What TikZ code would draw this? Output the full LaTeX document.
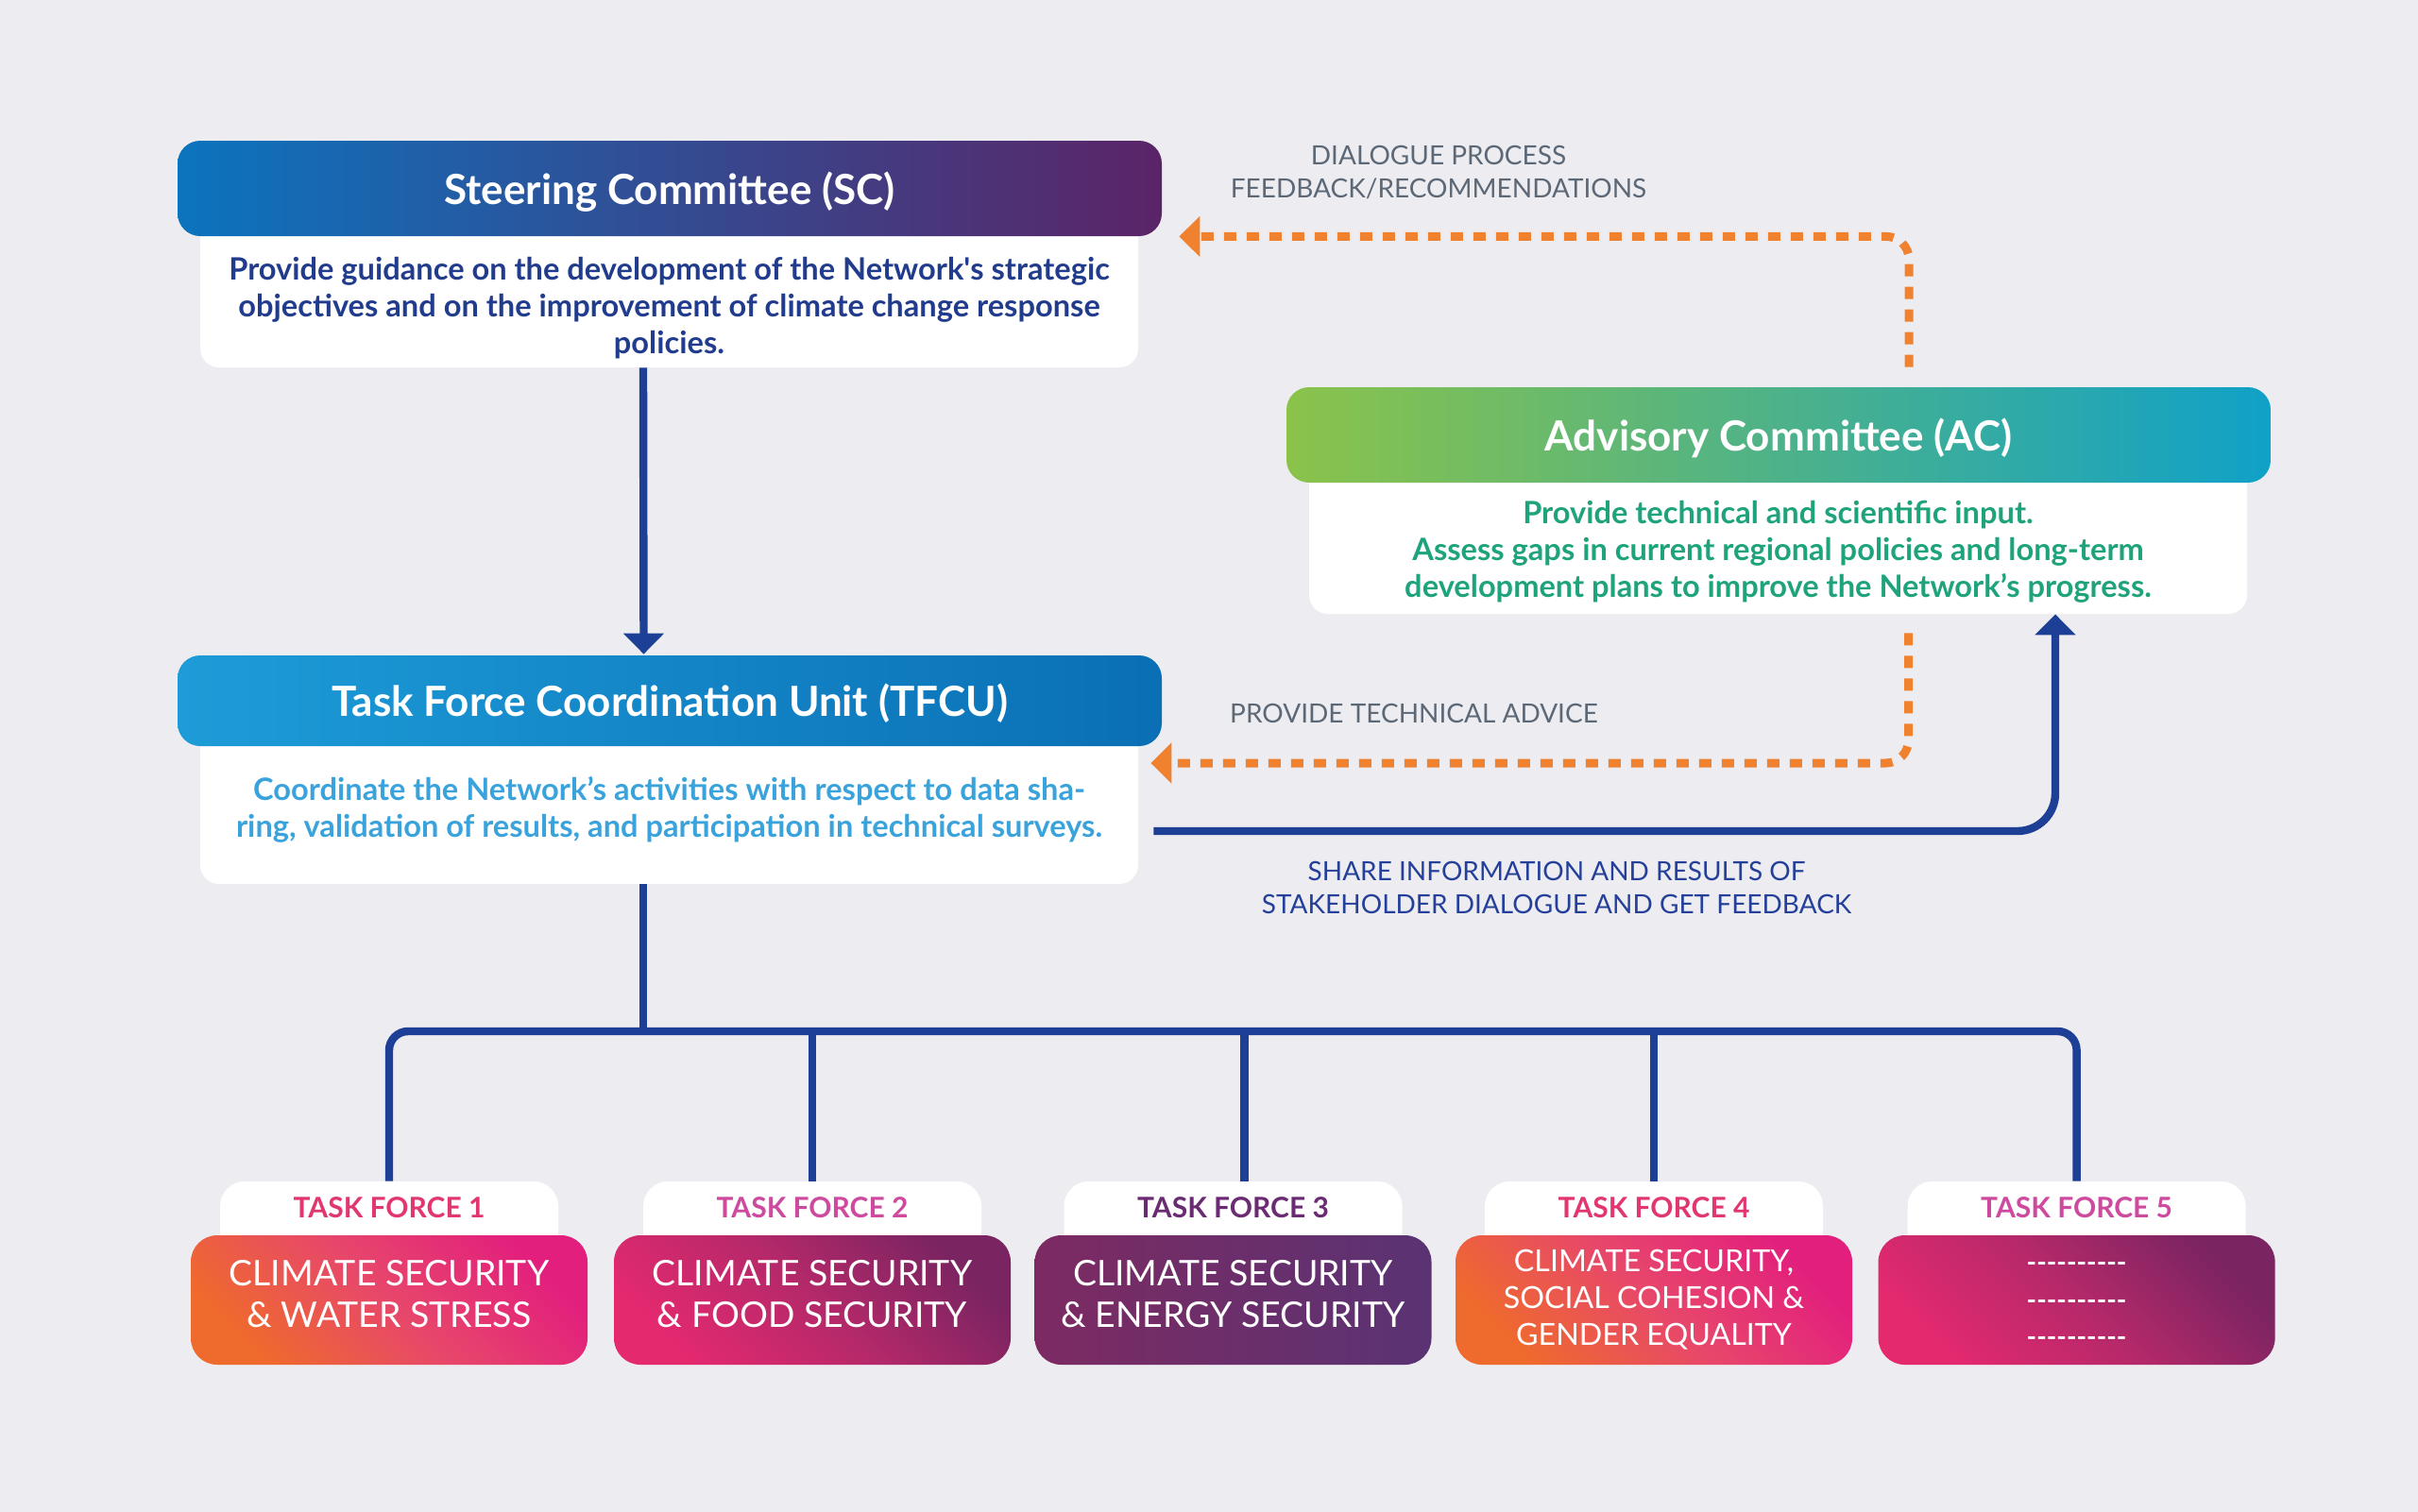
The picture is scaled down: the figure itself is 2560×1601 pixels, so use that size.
\documentclass[tikz,border=0pt]{standalone}
\usepackage{fontspec}
\setmainfont{Lato}
\usetikzlibrary{arrows.meta,calc}
\definecolor{bg}{HTML}{EDEDF1}
\definecolor{lineblue}{HTML}{1E3F96}
\definecolor{orng}{HTML}{F0812F}
\definecolor{greytxt}{HTML}{5D6877}
\definecolor{shareblue}{HTML}{24409A}
\definecolor{scblue}{HTML}{213C8D}
\definecolor{tfcublue}{HTML}{3AA3DC}
\definecolor{acgreen}{HTML}{1EA37C}
\definecolor{scL}{HTML}{0B74BE}
\definecolor{scR}{HTML}{5B2467}
\definecolor{tfL}{HTML}{1D9CD8}
\definecolor{tfR}{HTML}{0A6FB5}
\definecolor{acL}{HTML}{8BC34A}
\definecolor{acR}{HTML}{10A1C8}
\definecolor{oraB}{HTML}{EF6A2D}
\definecolor{oraM}{HTML}{E7476B}
\definecolor{oraT}{HTML}{E21F7D}
\definecolor{pinB}{HTML}{E4296F}
\definecolor{pinM}{HTML}{B5296A}
\definecolor{pinT}{HTML}{7A2461}
\definecolor{purL}{HTML}{7D2A62}
\definecolor{purR}{HTML}{5A3373}
\definecolor{labA}{HTML}{E2366E}
\definecolor{labB}{HTML}{CE4A9E}
\definecolor{labC}{HTML}{6A2B72}
\begin{document}
\begin{tikzpicture}[x=0.5pt,y=-0.5pt,
  hdr/.style={rounded corners=12pt, minimum width=521pt, minimum height=50.5pt, inner sep=0pt, text=white, text height=16.8pt, text depth=0pt, font=\bfseries\fontsize{22}{26}\selectfont},
  wbox/.style={fill=white, rounded corners=10pt, minimum width=496.5pt, inner sep=0pt},
  body/.style={align=center, inner sep=0pt, font=\bfseries\fontsize{16.3}{19.5}\selectfont},
  lbl/.style={align=center, inner sep=0pt, font=\fontsize{14}{17.5}\selectfont},
  bl/.style={draw=lineblue, line width=4.2pt},
  og/.style={draw=orng, line width=4.5pt, dash pattern=on 6.5pt off 5.5pt},
  tip/.style={-{Triangle[length=11pt,width=21pt]}},
  tab/.style={fill=white, rounded corners=13pt, minimum width=179pt, minimum height=39.5pt, inner sep=0pt},
  tfbox/.style={rounded corners=14pt, minimum width=210pt, minimum height=68.5pt, inner sep=0pt},
  tftxt/.style={align=center, inner sep=0pt, text=white, font=\fontsize{18.7}{22}\selectfont},
  tflbl/.style={inner sep=0pt, font=\bfseries\fontsize{15}{18}\selectfont},
  oramix/.style={bottom color=oraB, top color=oraT, middle color=oraM, shading angle=-45},
  pinmix/.style={bottom color=pinB, top color=pinT, middle color=pinM, shading angle=-45},
]
\path[fill=bg] (0,0) rectangle (2560,1601);

% Steering Committee
\node[wbox, minimum height=94.5pt] (scw) at (708.5,294.5) {};
\node[hdr, left color=scL, right color=scR] (sch) at (709,199.5) {Steering Committee (SC)};
\node[body, text=scblue] (sct) at (708.5,326) {Provide guidance on the development of the Network\textquotesingle s strategic\\objectives and on the improvement of climate change response\\policies.};

% TFCU
\node[wbox, minimum height=97pt] (tfw) at (708.5,839) {};
\node[hdr, minimum height=48pt, left color=tfL, right color=tfR] (tfh) at (709,742) {Task Force Coordination Unit (TFCU)};
\node[body, text=tfcublue] (tft) at (708.5,857) {Coordinate the Network’s activities with respect to data sha-\\ring, validation of results, and participation in technical surveys.};

% Advisory Committee
\node[wbox, minimum height=95pt] (acw) at (1882.5,555) {};
\node[hdr, left color=acL, right color=acR] (ach) at (1883,460.5) {Advisory Committee (AC)};
\node[body, text=acgreen] (act) at (1882.5,584) {Provide technical and scientific input.\\Assess gaps in current regional policies and long-term\\development plans to improve the Network’s progress.};

% labels
\node[lbl, text=greytxt] (dlg) at (1523,182) {DIALOGUE PROCESS\\FEEDBACK/RECOMMENDATIONS};
\node[lbl, text=greytxt] (pta) at (1497,755) {PROVIDE TECHNICAL ADVICE};
\node[lbl, text=shareblue] (shr) at (1648,940) {SHARE INFORMATION AND RESULTS OF\\STAKEHOLDER DIALOGUE AND GET FEEDBACK};

% task forces
\foreach \i/\x in {1/412,2/860,3/1305.5,4/1751,5/2198.6}{
  \node[tab] (tab\i) at (\x,1290.5) {};
}
\node[tflbl, text=labA] (lab1) at (412,1279) {TASK FORCE 1};
\node[tflbl, text=labB] (lab2) at (860,1279) {TASK FORCE 2};
\node[tflbl, text=labC] (lab3) at (1305.5,1279) {TASK FORCE 3};
\node[tflbl, text=labA] (lab4) at (1751,1279) {TASK FORCE 4};
\node[tflbl, text=labB] (lab5) at (2198.6,1279) {TASK FORCE 5};

\node[tfbox, oramix] (tf1) at (412,1376.5) {};
\node[tfbox, pinmix] (tf2) at (860,1376.5) {};
\node[tfbox, left color=purL, right color=purR] (tf3) at (1305.5,1376.5) {};
\node[tfbox, oramix] (tf4) at (1751,1376.5) {};
\node[tfbox, pinmix] (tf5) at (2198.6,1376.5) {};

\node[tftxt] (tf1t) at (412,1370) {CLIMATE SECURITY\\\& WATER STRESS};
\node[tftxt] (tf2t) at (860,1370) {CLIMATE SECURITY\\\& FOOD SECURITY};
\node[tftxt] (tf3t) at (1305.5,1370) {CLIMATE SECURITY\\\& ENERGY SECURITY};
\node[tftxt, font=\fontsize{16.1}{19.5}\selectfont] (tf4t) at (1751,1376) {CLIMATE SECURITY,\\SOCIAL COHESION \&\\GENDER EQUALITY};
\node[tftxt, font=\bfseries\fontsize{14.2}{19.75}\selectfont] (tf5t) at (2198.6,1381) {-{}-{}-{}-{}-{}-{}-{}-{}-{}-\\-{}-{}-{}-{}-{}-{}-{}-{}-{}-\\-{}-{}-{}-{}-{}-{}-{}-{}-{}-};

% connectors
\draw[bl, tip] ([xshift=-13.75pt]scw.south) -- ([xshift=-13.75pt,yshift=0.5pt]tfh.north);
\coordinate (bar) at (681,1092);
\draw[bl] ([xshift=-13.75pt]tfw.south) -- (bar);
\draw[bl, rounded corners=10pt] (tab1.north) |- (bar) -| (tab5.north);
\draw[bl] (tab2.north) -- (tab2.north |- bar);
\draw[bl] ($(tab3.north)+(12,0)$) -- ($(tab3.north |- bar)+(12,0)$);
\draw[bl] (tab4.north) -- (tab4.north |- bar);

\draw[bl, tip, rounded corners=20pt] ($(tfw.east)+(16,41)$) -| ($(acw.south)+(293.5,0)$);
\draw[og, tip, rounded corners=12pt] ($(ach.north)+(138,-21)$) |- ($(sch.south east)+(18,0)$);
\draw[og, tip, rounded corners=12pt] ($(acw.south)+(138,20)$) |- ($(tfw.east)+(13,-31)$);
\end{tikzpicture}
\end{document}
